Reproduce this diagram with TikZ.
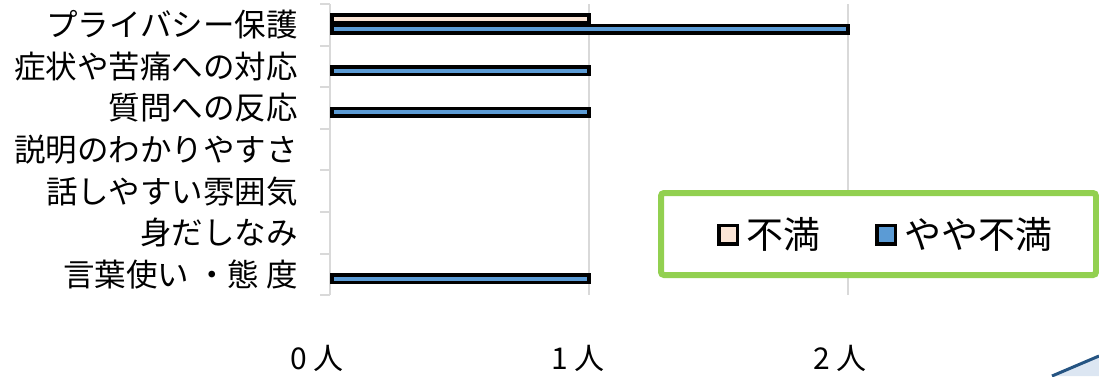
\documentclass[tikz,border=0pt]{standalone}
\usepackage{fontspec}
\setmainfont{Noto Sans CJK JP}
\usetikzlibrary{positioning}
\definecolor{barpeach}{RGB}{251,229,214}
\definecolor{barblue}{RGB}{91,155,213}
\definecolor{gridgray}{RGB}{217,217,217}
\definecolor{legendgreen}{RGB}{146,208,80}
\definecolor{cornerblue}{RGB}{37,84,130}
\definecolor{cornerfill}{RGB}{220,230,242}

\begin{document}
\begin{tikzpicture}[x=1pt, y=-1pt,
    catlabel/.style={anchor=east, inner sep=0pt, font=\fontsize{31.5}{31.5}\selectfont},
    ticklabel/.style={inner sep=0pt, font=\fontsize{30}{30}\selectfont},
    gridline/.style={draw=gridgray, line width=2pt},
    bar/.style={draw=black, line width=3.5pt},
    legendbox/.style={draw=legendgreen, fill=white, line width=6pt, rounded corners=3pt, minimum width=435pt, minimum height=82pt},
    swatch/.style={draw=black, line width=3.5pt, minimum size=18.5pt, inner sep=0pt},
    legtext/.style={inner sep=0pt, font=\fontsize{37}{37}\selectfont}
]
    \useasboundingbox (0,0) rectangle (1099,376);

    % grid lines and axis
    \draw[gridline] (589,4) -- (589,295);
    \draw[gridline] (848,4) -- (848,295);
    \draw[gridline] (330,4) -- (330,295);
    \foreach \y in {4,45.6,...,297} \draw[gridline] (320,\y) -- (330,\y);

    % category labels
    \node[catlabel] (privacy) at (298,24.8) {プライバシー保護};
    \node[catlabel] (symptom) at (298,66.4) {症状や苦痛への対応};
    \node[catlabel] (question) at (298,108) {質問への反応};
    \node[catlabel] (explain) at (298,149.6) {説明のわかりやすさ};
    \node[catlabel] (mood) at (298,191.2) {話しやすい雰囲気};
    \node[catlabel] (dress) at (298,232.8) {身だしなみ};
    \node[catlabel] (manner) at (298,274.4) {言葉使い ・態 度};

    % bars
    \draw[bar, fill=barpeach] (332,15.0) rectangle (589,22.5);
    \draw[bar, fill=barblue] (332,25.5) rectangle (848,33.0);
    \draw[bar, fill=barblue] (332,67.1) rectangle (589,74.6);
    \draw[bar, fill=barblue] (332,108.7) rectangle (589,116.2);
    \draw[bar, fill=barblue] (332,275.1) rectangle (589,282.6);

    % value axis labels
    \node[ticklabel] (zero) at (317,358) {0 人};
    \node[ticklabel] (one) at (578,358) {1 人};
    \node[ticklabel] (two) at (840,358) {2 人};

    % legend
    \node[legendbox] (legend) at (878.5,234) {};
    \node[swatch, fill=barpeach] (sw1) at (728,234.5) {};
    \node[legtext, right=7pt of sw1] (lg1) {不満};
    \node[swatch, fill=barblue] (sw2) at (886,234.5) {};
    \node[legtext, right=7pt of sw2] (lg2) {やや不満};

    % corner of the next shape
    \fill[cornerfill] (1052,376) -- (1099,356) -- (1099,376) -- cycle;
    \draw[cornerblue, line width=3pt] (1052,376) -- (1099,356);
\end{tikzpicture}
\end{document}
